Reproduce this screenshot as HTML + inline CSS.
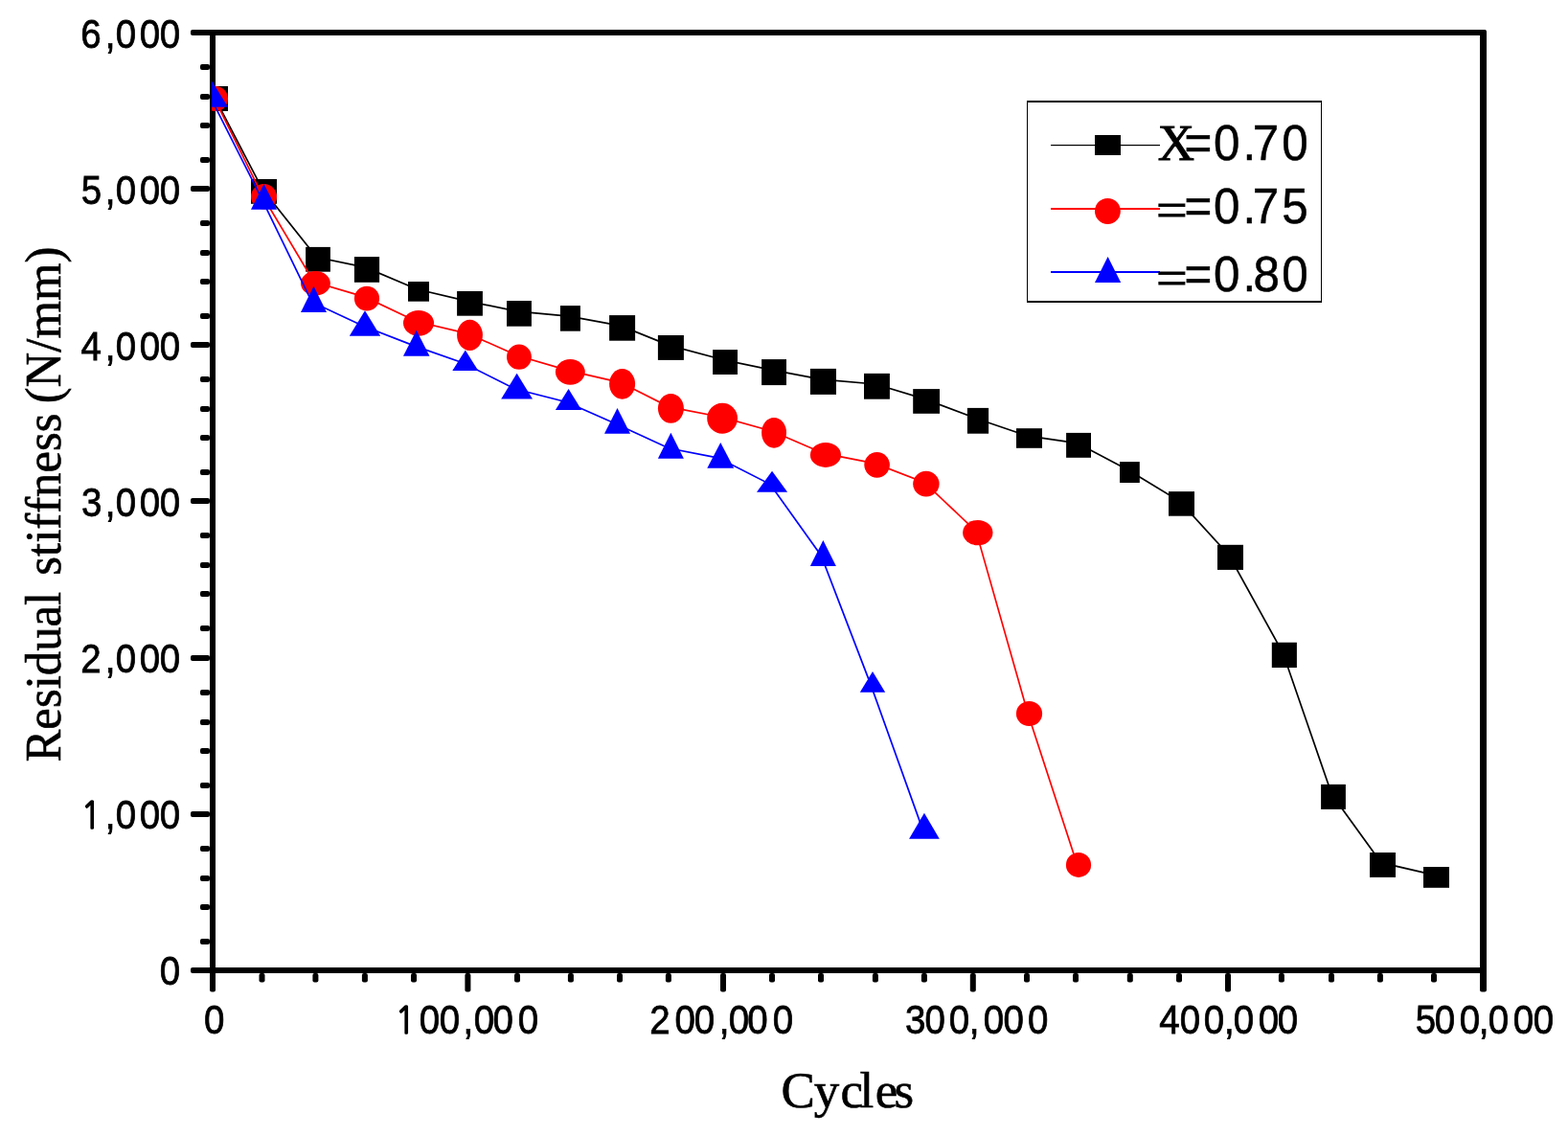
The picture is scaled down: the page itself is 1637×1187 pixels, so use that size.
<!DOCTYPE html>
<html lang="en"><head><meta charset="utf-8"><title>Residual stiffness vs Cycles</title>
<style>html,body{margin:0;padding:0;background:#fff;overflow:hidden}svg{display:block}text{font-kerning:none;font-variant-ligatures:none}</style>
</head><body>
<svg width="1637" height="1187" viewBox="0 0 1637 1187">
<g fill="#000">
<rect rx="2" x="219" y="31" width="6" height="1004.5"/>
<rect rx="2" x="1545" y="31" width="7" height="1004.5"/>
<rect rx="2" x="199" y="31" width="1352" height="6"/>
<rect rx="2" x="199" y="1010" width="1352" height="6"/>
<rect rx="2" x="199" y="194" width="20" height="6"/>
<rect rx="2" x="199" y="357" width="20" height="6"/>
<rect rx="2" x="199" y="520" width="20" height="6"/>
<rect rx="2" x="199" y="684" width="20" height="6"/>
<rect rx="2" x="199" y="847" width="20" height="6"/>
<rect rx="2" x="209" y="67" width="10" height="6"/>
<rect rx="2" x="209" y="98" width="10" height="6"/>
<rect rx="2" x="209" y="128" width="10" height="6"/>
<rect rx="2" x="209" y="164" width="10" height="6"/>
<rect rx="2" x="209" y="230" width="10" height="6"/>
<rect rx="2" x="209" y="261" width="10" height="6"/>
<rect rx="2" x="209" y="291" width="10" height="6"/>
<rect rx="2" x="209" y="327" width="10" height="6"/>
<rect rx="2" x="209" y="393" width="10" height="6"/>
<rect rx="2" x="209" y="424" width="10" height="6"/>
<rect rx="2" x="209" y="454" width="10" height="6"/>
<rect rx="2" x="209" y="490" width="10" height="6"/>
<rect rx="2" x="209" y="556" width="10" height="6"/>
<rect rx="2" x="209" y="587" width="10" height="6"/>
<rect rx="2" x="209" y="617" width="10" height="6"/>
<rect rx="2" x="209" y="653" width="10" height="6"/>
<rect rx="2" x="209" y="720" width="10" height="6"/>
<rect rx="2" x="209" y="751" width="10" height="6"/>
<rect rx="2" x="209" y="781" width="10" height="6"/>
<rect rx="2" x="209" y="817" width="10" height="6"/>
<rect rx="2" x="209" y="883" width="10" height="6"/>
<rect rx="2" x="209" y="914" width="10" height="6"/>
<rect rx="2" x="209" y="944" width="10" height="6"/>
<rect rx="2" x="209" y="980" width="10" height="6"/>
<rect rx="2" x="485.4" y="1016" width="6" height="19.5"/>
<rect rx="2" x="752" y="1016" width="6" height="19.5"/>
<rect rx="2" x="1012.8" y="1016" width="6" height="19.5"/>
<rect rx="2" x="1279" y="1016" width="6" height="19.5"/>
<rect rx="2" x="270.5" y="1016" width="6" height="9.5"/>
<rect rx="2" x="326.4" y="1016" width="6" height="9.5"/>
<rect rx="2" x="377.9" y="1016" width="6" height="9.5"/>
<rect rx="2" x="429" y="1016" width="6" height="9.5"/>
<rect rx="2" x="537" y="1016" width="6" height="9.5"/>
<rect rx="2" x="592.9" y="1016" width="6" height="9.5"/>
<rect rx="2" x="644" y="1016" width="6" height="9.5"/>
<rect rx="2" x="694.9" y="1016" width="6" height="9.5"/>
<rect rx="2" x="803" y="1016" width="6" height="9.5"/>
<rect rx="2" x="854" y="1016" width="6" height="9.5"/>
<rect rx="2" x="910.9" y="1016" width="6" height="9.5"/>
<rect rx="2" x="961.9" y="1016" width="6" height="9.5"/>
<rect rx="2" x="1069" y="1016" width="6" height="9.5"/>
<rect rx="2" x="1120" y="1016" width="6" height="9.5"/>
<rect rx="2" x="1176.8" y="1016" width="6" height="9.5"/>
<rect rx="2" x="1228" y="1016" width="6" height="9.5"/>
<rect rx="2" x="1334.9" y="1016" width="6" height="9.5"/>
<rect rx="2" x="1387" y="1016" width="6" height="9.5"/>
<rect rx="2" x="1437.9" y="1016" width="6" height="9.5"/>
<rect rx="2" x="1494" y="1016" width="6" height="9.5"/>
</g>
<text font-family="'Liberation Sans', Arial, sans-serif" font-size="42.5" stroke="#000" stroke-width="0.8" transform="translate(0 49.7) scale(0.905 1)" x="93.01 121.17 133.43 160.94 184.31" y="0">6,000</text>
<text font-family="'Liberation Sans', Arial, sans-serif" font-size="42.5" stroke="#000" stroke-width="0.8" transform="translate(0 212.7) scale(0.905 1)" x="93.75 121.17 133.43 160.94 184.31" y="0">5,000</text>
<text font-family="'Liberation Sans', Arial, sans-serif" font-size="42.5" stroke="#000" stroke-width="0.8" transform="translate(0 375.5) scale(0.905 1)" x="93.29 121.17 133.43 160.94 184.31" y="0">4,000</text>
<text font-family="'Liberation Sans', Arial, sans-serif" font-size="42.5" stroke="#000" stroke-width="0.8" transform="translate(0 538.5) scale(0.905 1)" x="93.83 121.17 133.43 160.94 184.31" y="0">3,000</text>
<text font-family="'Liberation Sans', Arial, sans-serif" font-size="42.5" stroke="#000" stroke-width="0.8" transform="translate(0 701.7) scale(0.905 1)" x="93.15 121.17 133.43 160.94 184.31" y="0">2,000</text>
<text font-family="'Liberation Sans', Arial, sans-serif" font-size="42.5" stroke="#000" stroke-width="0.8" transform="translate(0 864.7) scale(0.905 1)" x="93.32 121.17 133.43 160.94 184.31" y="0"><tspan font-family="NanumGothic, 'Liberation Sans', sans-serif" font-size="38.7" stroke-width="1.4">1</tspan>,000</text>
<text font-family="'Liberation Sans', Arial, sans-serif" font-size="42.5" stroke="#000" stroke-width="0.8" transform="translate(0 1027.7) scale(0.905 1)" x="184.31" y="0">0</text>
<text font-family="'Liberation Sans', Arial, sans-serif" font-size="42.5" stroke="#000" stroke-width="0.8" transform="translate(0 1078.5) scale(0.905 1)" x="235.25" y="0">0</text>
<text font-family="'Liberation Sans', Arial, sans-serif" font-size="42.5" stroke="#000" stroke-width="0.8" transform="translate(0 1078.5) scale(0.905 1)" x="455.86 483.65 506.8 534.26 546.63 568.51 597.52" y="0"><tspan font-family="NanumGothic, 'Liberation Sans', sans-serif" font-size="38.7" stroke-width="1.4">1</tspan>00,000</text>
<text font-family="'Liberation Sans', Arial, sans-serif" font-size="42.5" stroke="#000" stroke-width="0.8" transform="translate(0 1078.5) scale(0.905 1)" x="749.45 778.4 800.78 829.57 840.56 862.16 891.33" y="0">200,000</text>
<text font-family="'Liberation Sans', Arial, sans-serif" font-size="42.5" stroke="#000" stroke-width="0.8" transform="translate(0 1078.5) scale(0.905 1)" x="1044.22 1066.97 1094.76 1118.02 1134.54 1157.46 1185.59" y="0">300,000</text>
<text font-family="'Liberation Sans', Arial, sans-serif" font-size="42.5" stroke="#000" stroke-width="0.8" transform="translate(0 1078.5) scale(0.905 1)" x="1337.38 1361.05 1388.62 1412.11 1423.04 1451.77 1473.65" y="0">400,000</text>
<text font-family="'Liberation Sans', Arial, sans-serif" font-size="42.5" stroke="#000" stroke-width="0.8" transform="translate(0 1078.5) scale(0.905 1)" x="1632.97 1654.92 1683.82 1705.81 1716.97 1745.7 1768.9" y="0">500,000</text>
<text font-family="'Liberation Serif', 'Times New Roman', serif" font-size="53" stroke="#000" stroke-width="0.6" x="815.5 849.7 877.6 897.6 913.65 933.6" y="1155.6">Cycles</text>
<text font-family="'Liberation Serif', 'Times New Roman', serif" font-size="52" stroke="#000" stroke-width="0.6" transform="translate(63.2 800) rotate(-90) scale(0.9771 1)" y="0"><tspan x="4.57">Residual</tspan> <tspan x="203.96">stiffness</tspan> <tspan x="387.56">(N/mm)</tspan></text>
<defs><clipPath id="pc"><rect x="221" y="34" width="1327" height="979"/></clipPath></defs>
<g clip-path="url(#pc)">
<polyline fill="none" stroke="#000" stroke-width="1.7" stroke-linejoin="miter" points="223.5,100.7 274,197.6 330.5,268.5 381.5,279.15 435.5,302.05 489,314.55 540.45,325.05 593.9,330.1 648.1,340.1 698.9,360.65 755.55,375.75 806.55,386.3 857.95,396.1 913.95,401 965.6,416.65 1019.5,437 1073,455.2 1124.55,462.55 1177.9,490.75 1232,523.6 1283,579.55 1339.35,681.55 1390.5,829.6 1442,900.65 1498,913.6"/>
<g fill="#000">
<rect x="212" y="90" width="26" height="26"/>
<rect x="262" y="187" width="27" height="25.8"/>
<rect x="319.1" y="257.9" width="25.8" height="25.8"/>
<rect x="369.9" y="268.1" width="26.2" height="26.7"/>
<rect x="426" y="294" width="22" height="20.7"/>
<rect x="477.1" y="304" width="26.8" height="25.7"/>
<rect x="529" y="314" width="25.9" height="26.7"/>
<rect x="584.9" y="319.1" width="21" height="26.6"/>
<rect x="636.1" y="329.1" width="27" height="26.6"/>
<rect x="686.9" y="350" width="27" height="25.9"/>
<rect x="744.1" y="365.1" width="25.9" height="25.9"/>
<rect x="795.1" y="375.1" width="25.9" height="27"/>
<rect x="845.9" y="384.9" width="27.1" height="27"/>
<rect x="902" y="389.9" width="26.9" height="26.8"/>
<rect x="953.2" y="406.1" width="27.8" height="25.7"/>
<rect x="1009.9" y="425.9" width="22.2" height="26.8"/>
<rect x="1061" y="447.2" width="27" height="20.6"/>
<rect x="1113.1" y="451.9" width="25.9" height="25.9"/>
<rect x="1169" y="482.1" width="20.8" height="21.9"/>
<rect x="1220" y="513.1" width="27" height="25.6"/>
<rect x="1271" y="568.8" width="27" height="26.1"/>
<rect x="1327.8" y="670.7" width="26.1" height="26.3"/>
<rect x="1379.1" y="818.9" width="25.8" height="26"/>
<rect x="1430" y="890" width="27" height="25.9"/>
<rect x="1486" y="905" width="27" height="21.8"/>
</g>
<polyline fill="none" stroke="#f00" stroke-width="1.7" stroke-linejoin="miter" points="223.2,101.5 273.7,203.75 327.65,294.25 381.2,310.15 435.2,335.8 488.7,348.35 540.15,371.2 593.55,386.85 647.8,399.35 698.6,424.85 752.3,435.25 806.25,450.3 860.15,473.45 913.8,483.85 965.1,503.65 1019,554.6 1072.7,743.55 1124.2,901.4"/>
<g fill="#f00">
<ellipse cx="225" cy="103" rx="13" ry="13"/>
<ellipse cx="275.5" cy="205.25" rx="13.5" ry="13.25"/>
<ellipse cx="329.45" cy="295.75" rx="15.45" ry="12.85"/>
<ellipse cx="383" cy="311.65" rx="13.1" ry="12.85"/>
<ellipse cx="437" cy="337.3" rx="16" ry="13.4"/>
<ellipse cx="490.5" cy="349.85" rx="13.4" ry="16.15"/>
<ellipse cx="541.95" cy="372.7" rx="12.95" ry="13.1"/>
<ellipse cx="595.35" cy="388.35" rx="15.45" ry="13.35"/>
<ellipse cx="649.6" cy="400.85" rx="13.5" ry="15.85"/>
<ellipse cx="700.4" cy="426.35" rx="13.5" ry="15.45"/>
<ellipse cx="754.1" cy="436.75" rx="15.9" ry="15.95"/>
<ellipse cx="808.05" cy="451.8" rx="12.95" ry="15.9"/>
<ellipse cx="861.95" cy="474.95" rx="16.05" ry="12.95"/>
<ellipse cx="915.6" cy="485.35" rx="13.3" ry="13.35"/>
<ellipse cx="966.9" cy="505.15" rx="13.7" ry="13.35"/>
<ellipse cx="1020.8" cy="556.1" rx="15.7" ry="13.2"/>
<ellipse cx="1074.5" cy="745.05" rx="13.6" ry="13.05"/>
<ellipse cx="1126" cy="902.9" rx="13.1" ry="13"/>
</g>
<polyline fill="none" stroke="#00f" stroke-width="1.7" stroke-linejoin="miter" points="219.5,101.22 273.55,208.12 325.5,315.15 379,340.25 432.75,361.1 483.8,379 537.6,406 591.55,419.8 642.5,442.2 698.4,468 750.25,478.15 804.05,505.55 857.4,580.25 909,714.65 962.95,865.1"/>
<g fill="#00f">
<polygon points="221.5,85 238,111.85 205,111.85"/>
<polygon points="275.55,191.9 289.1,218.75 262,218.75"/>
<polygon points="327.5,298.8 341,325.9 314,325.9"/>
<polygon points="381,324.2 397.2,350.7 364.8,350.7"/>
<polygon points="434.75,344.8 448.5,371.8 421,371.8"/>
<polygon points="485.8,365.5 499.3,386.9 472.3,386.9"/>
<polygon points="539.6,389.8 556,416.6 523.2,416.6"/>
<polygon points="593.55,406.1 607.2,427.9 579.9,427.9"/>
<polygon points="644.5,426 658,452.8 631,452.8"/>
<polygon points="700.4,451.7 713.9,478.7 686.9,478.7"/>
<polygon points="752.25,462 766.2,488.7 738.3,488.7"/>
<polygon points="806.05,491.8 822.1,513.7 790,513.7"/>
<polygon points="859.4,564 872.9,590.9 845.9,590.9"/>
<polygon points="911,700.9 924.2,722.8 897.8,722.8"/>
<polygon points="964.95,848.8 980.8,875.8 949.1,875.8"/>
</g>
</g>
<g fill="#000">
<rect x="1072" y="105" width="308" height="2"/>
<rect x="1072" y="314" width="308" height="2"/>
<rect x="1072" y="105" width="1" height="211"/>
<rect x="1379" y="105" width="1" height="211"/>
</g>
<rect x="1097" y="151" width="114" height="1.2" fill="#000"/>
<rect x="1143" y="141" width="27" height="21" fill="#000"/>
<rect x="1097" y="217" width="114" height="2" fill="#f00"/>
<ellipse cx="1156.4" cy="220.4" rx="13.4" ry="13.5" fill="#f00"/>
<rect x="1097" y="283" width="114" height="2" fill="#00f"/>
<polygon points="1156.6,267.9 1170.2,294.9 1143,294.9" fill="#00f"/>
<text font-family="'Liberation Serif', 'Times New Roman', serif" font-size="52" transform="translate(1208.74 166.9) scale(1.0177 1)" stroke="#000" stroke-width="1">X</text>
<text font-family="'Liberation Sans', Arial, sans-serif" font-size="52" stroke="#000" stroke-width="0.5" transform="translate(0 166.9) scale(0.95 1)" x="1301.62 1333.8 1365.83 1376.57 1408.59" y="0">=0.70</text>
<text font-family="'Liberation Serif', 'Times New Roman', serif" font-size="52" transform="translate(1207.01 237) scale(1.1158 1)" stroke="#000" stroke-width="0.9">=</text>
<text font-family="'Liberation Sans', Arial, sans-serif" font-size="52" stroke="#000" stroke-width="0.5" transform="translate(0 233) scale(0.95 1)" x="1301.62 1333.8 1365.83 1376.57 1408.75" y="0">=0.75</text>
<text font-family="'Liberation Serif', 'Times New Roman', serif" font-size="52" transform="translate(1207.01 308) scale(1.1158 1)" stroke="#000" stroke-width="0.9">=</text>
<text font-family="'Liberation Sans', Arial, sans-serif" font-size="52" stroke="#000" stroke-width="0.5" transform="translate(0 304) scale(0.95 1)" x="1301.62 1333.8 1365.83 1377.28 1408.7" y="0">=0.80</text>
</svg>
</body></html>
